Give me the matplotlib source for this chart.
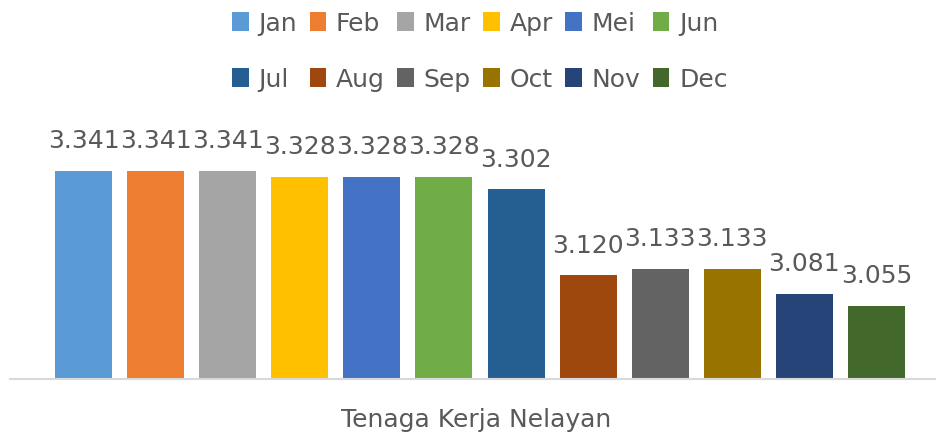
import numpy as np
import matplotlib
matplotlib.use("Agg")
import matplotlib.pyplot as plt
from matplotlib.patches import Patch

months = ["Jan", "Feb", "Mar", "Apr", "Mei", "Jun",
          "Jul", "Aug", "Sep", "Oct", "Nov", "Dec"]
values = [3.341, 3.341, 3.341, 3.328, 3.328, 3.328,
          3.302, 3.120, 3.133, 3.133, 3.081, 3.055]
labels = ["3.341", "3.341", "3.341", "3.328", "3.328", "3.328",
          "3.302", "3.120", "3.133", "3.133", "3.081", "3.055"]
colors = ["#5B9BD5", "#ED7D31", "#A5A5A5", "#FFC000", "#4472C4", "#70AD47",
          "#255E91", "#9E480E", "#636363", "#997300", "#264478", "#43682B"]
category = "Tenaga Kerja Nelayan"

plt.rcParams['font.family'] = ['DejaVu Sans']
txt = "#595959"
fs = 18

fig = plt.figure(figsize=(9.37, 4.35), dpi=100)
# axes placed in pixels: x 10..937, baseline at y=380 from top
ax = fig.add_axes([10/937, 55/435, 927/937, 236/435])

x = np.arange(len(values))
bars = ax.bar(x, values, width=0.79, color=colors)
ax.set_ylim(2.9, 3.4)
ax.set_xlim(-1.02, 11.84)

for xi, v, lab in zip(x, values, labels):
    ax.annotate(lab, (xi, v), xytext=(0, 17), textcoords="offset points",
                ha="center", va="baseline", fontsize=fs, color=txt)

for s in ["top", "right", "left"]:
    ax.spines[s].set_visible(False)
ax.spines["bottom"].set_color("#d9d9d9")
ax.spines["bottom"].set_linewidth(1.5)
ax.set_yticks([])
ax.set_xticks([])
fig.text(476/937, 1 - 420/435, category, ha="center", va="center",
         fontsize=fs, color=txt)

# legend: reorder so rows read Jan..Jun / Jul..Dec
handles = [Patch(facecolor=c, label=m) for m, c in zip(months, colors)]
order = []
for i in range(6):
    order += [i, i + 6]
leg = fig.legend([handles[i] for i in order], [months[i] for i in order],
                 ncol=6, loc="center", bbox_to_anchor=(480/937, 1 - 52/435),
                 frameon=False, fontsize=fs, handlelength=0.65, handleheight=0.8,
                 handletextpad=0.4, columnspacing=0.5, labelspacing=1.3,
                 labelcolor=txt)

fig.savefig("out.png", dpi=100)
